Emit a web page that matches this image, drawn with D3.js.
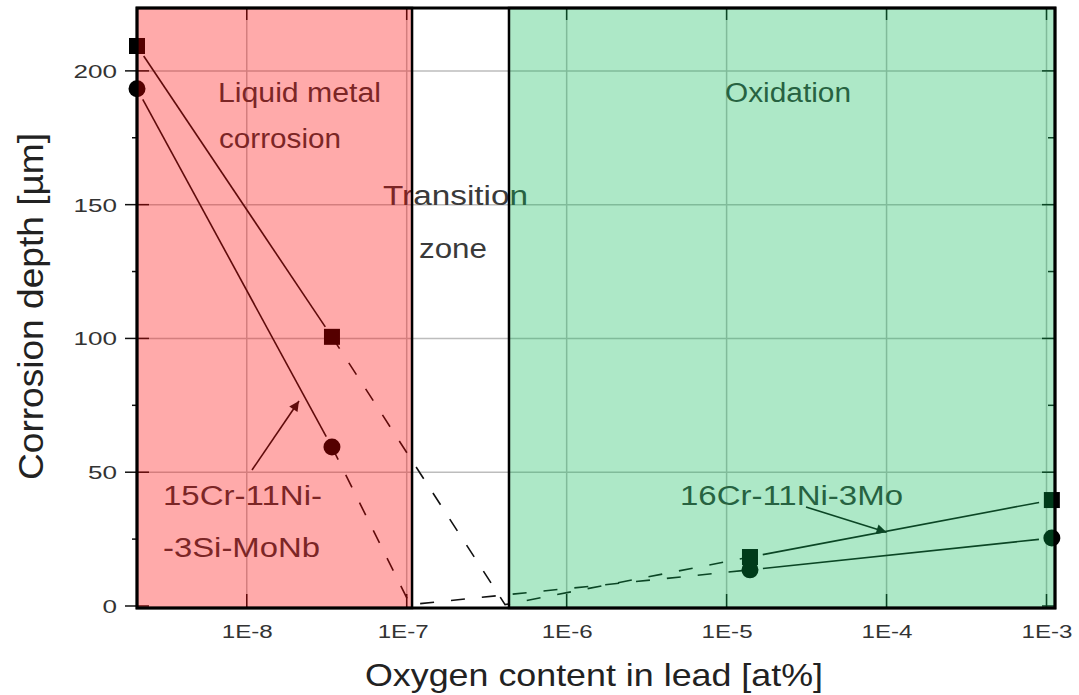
<!DOCTYPE html>
<html>
<head>
<meta charset="utf-8">
<script src="https://cdn.jsdelivr.net/npm/d3@7"></script>
<style>
  body { margin: 0; background: #fff; }
  svg { display: block; font-family: "Liberation Sans", Arial, sans-serif; }
</style>
</head>
<body>
<svg id="chart" width="1079" height="695"></svg>
<script>
// oxygen content (at%) of the measured points
const conc = [2.06e-9, 3.41e-8, 1.40e-5, 1.08e-3];
// 16Cr-11Ni-3Mo (squares) and 15Cr-11Ni-3Si-MoNb (circles), depth in µm
const depthSquare = [209.3, 100.6, 18.3, 39.6];
const depthCircle = [193.3, 59.4, 13.5, 25.4];
// dashed extrapolation through the transition zone
const dashSquare = [[3.41e-8, 100.6], [4.12e-7, 0.5], [1.40e-5, 18.3]];
const dashCircle = [[3.41e-8, 59.4], [1.05e-7, 0.5], [1.40e-5, 13.5]];

const xTicks = [1e-8, 1e-7, 1e-6, 1e-5, 1e-4, 1e-3];
const xTickLabels = ["1E-8", "1E-7", "1E-6", "1E-5", "1E-4", "1E-3"];
const yTicks = [0, 50, 100, 150, 200];
const yMinor = [25, 75, 125, 175];

// regions: liquid metal corrosion / oxidation
const regionNames = ["Liquid metal corrosion", "Oxidation"];
const regionFrom = [2.06e-9, 4.36e-7];
const regionTo = [1.08e-7, 1.13e-3];
const regionColors = ["rgba(255,0,0,0.333)", "rgba(0,182,82,0.32)"];

const svg = d3.select("#chart");
const pLeft = 137, pRight = 1055, pTop = 8, pBottom = 608;

const x = d3.scaleLog().domain([2.06e-9, 1.13e-3]).range([pLeft, pRight]);
const y = d3.scaleLinear().domain([-0.75, 223.5]).range([pBottom, pTop]);

svg.append("defs").append("marker")
    .attr("id", "arrow")
    .attr("viewBox", "0 0 10 10")
    .attr("refX", 10).attr("refY", 5)
    .attr("markerWidth", 14).attr("markerHeight", 10)
    .attr("markerUnits", "userSpaceOnUse")
    .attr("orient", "auto")
    .append("path")
    .attr("d", "M0,0 L10,5 L0,10 Z")
    .attr("fill", "#111");

// grid
const grid = svg.append("g").attr("stroke", "#bdbdbd").attr("stroke-width", 1.5);
grid.selectAll(".gx").data(xTicks).enter().append("line")
    .attr("x1", d => x(d)).attr("x2", d => x(d))
    .attr("y1", pTop).attr("y2", pBottom);
grid.selectAll(".gy").data(yTicks.slice(1)).enter().append("line")
    .attr("x1", pLeft).attr("x2", pRight)
    .attr("y1", d => y(d)).attr("y2", d => y(d));

// ticks (drawn under the coloured overlay)
const tk = svg.append("g").attr("stroke", "#111").attr("stroke-width", 1.5);
tk.selectAll(".tb").data(xTicks).enter().append("line")
    .attr("x1", d => x(d)).attr("x2", d => x(d))
    .attr("y1", pBottom).attr("y2", pBottom - 14);
tk.selectAll(".tt").data(xTicks).enter().append("line")
    .attr("x1", d => x(d)).attr("x2", d => x(d))
    .attr("y1", pTop).attr("y2", pTop + 12);
tk.selectAll(".tl").data(yTicks).enter().append("line")
    .attr("x1", pLeft - 12).attr("x2", pLeft + 12)
    .attr("y1", d => y(d)).attr("y2", d => y(d));
tk.selectAll(".tlm").data(yMinor).enter().append("line")
    .attr("x1", pLeft - 5).attr("x2", pLeft)
    .attr("y1", d => y(d)).attr("y2", d => y(d));
tk.selectAll(".tr").data(yTicks).enter().append("line")
    .attr("x1", pRight - 13).attr("x2", pRight)
    .attr("y1", d => y(d)).attr("y2", d => y(d));
tk.selectAll(".trm").data(yMinor).enter().append("line")
    .attr("x1", pRight - 7).attr("x2", pRight)
    .attr("y1", d => y(d)).attr("y2", d => y(d));

// solid connecting lines, with gaps at the markers
function gapLines(g, xs, ys, gap) {
    for (let i = 0; i < xs.length - 1; i++) {
        const x0 = x(xs[i]), y0 = y(ys[i]), x1 = x(xs[i + 1]), y1 = y(ys[i + 1]);
        const len = Math.hypot(x1 - x0, y1 - y0);
        const ux = (x1 - x0) / len, uy = (y1 - y0) / len;
        g.append("line")
            .attr("x1", x0 + ux * gap).attr("y1", y0 + uy * gap)
            .attr("x2", x1 - ux * gap).attr("y2", y1 - uy * gap);
    }
}
const lines = svg.append("g").attr("stroke", "#111").attr("stroke-width", 1.6);
// liquid metal part and oxidation part
gapLines(lines, conc.slice(0, 2), depthSquare.slice(0, 2), 12);
gapLines(lines, conc.slice(0, 2), depthCircle.slice(0, 2), 12);
gapLines(lines, conc.slice(2), depthSquare.slice(2), 13);
gapLines(lines, conc.slice(2), depthCircle.slice(2), 13);

const lineGen = d3.line().x(d => x(d[0])).y(d => y(d[1]));
[dashSquare, dashCircle].forEach(pts => {
    svg.append("path")
        .attr("d", lineGen(pts))
        .attr("fill", "none")
        .attr("stroke", "#111")
        .attr("stroke-width", 1.6)
        .attr("stroke-dasharray", "14,17");
});

// markers
svg.append("g").selectAll("rect").data(conc).enter().append("rect")
    .attr("x", d => x(d) - 8)
    .attr("y", (d, i) => y(depthSquare[i]) - 8)
    .attr("width", 16).attr("height", 16)
    .attr("fill", "#000");
svg.append("g").selectAll("circle").data(conc).enter().append("circle")
    .attr("cx", d => x(d))
    .attr("cy", (d, i) => y(depthCircle[i]))
    .attr("r", 8.5)
    .attr("fill", "#000");

// arrows
svg.append("line")
    .attr("x1", 252).attr("y1", 470).attr("x2", 299).attr("y2", 401)
    .attr("stroke", "#111").attr("stroke-width", 1.6)
    .attr("marker-end", "url(#arrow)");
const tArrow = (Math.log10(1e-4) - Math.log10(conc[2])) / (Math.log10(conc[3]) - Math.log10(conc[2]));
svg.append("line")
    .attr("x1", 806).attr("y1", 507)
    .attr("x2", x(1e-4)).attr("y2", y(d3.interpolate(depthSquare[2], depthSquare[3])(tArrow)) + 1)
    .attr("stroke", "#111").attr("stroke-width", 1.6)
    .attr("marker-end", "url(#arrow)");

// in-plot texts
function label(txt, tx, ty, len, size, fill) {
    return svg.append("text")
        .attr("x", tx).attr("y", ty)
        .attr("font-size", size)
        .attr("fill", fill || "#3a3a3a")
        .attr("textLength", len)
        .attr("lengthAdjust", "spacingAndGlyphs")
        .text(txt);
}
label("Liquid metal", 218, 102, 163, 27);
label("corrosion", 219, 148, 122, 27);
label("Transition", 383, 205, 145, 27);
label("zone", 419, 258, 68, 27);
label("Oxidation", 725, 102, 126, 27);
label("15Cr-11Ni-", 163, 505, 159, 27);
label("-3Si-MoNb", 163, 557, 157, 27);
label("16Cr-11Ni-3Mo", 680, 505, 223, 27);

// coloured region overlays
regionNames.forEach((n, i) => {
    svg.append("rect")
        .attr("x", x(regionFrom[i]))
        .attr("y", pTop)
        .attr("width", x(regionTo[i]) - x(regionFrom[i]))
        .attr("height", pBottom - pTop)
        .attr("fill", regionColors[i])
        .attr("stroke", "#000")
        .attr("stroke-width", 2.5);
});

// frame
svg.append("rect")
    .attr("x", pLeft).attr("y", pTop)
    .attr("width", pRight - pLeft).attr("height", pBottom - pTop)
    .attr("fill", "none").attr("stroke", "#000").attr("stroke-width", 3);

// tick labels
svg.append("g").selectAll("text").data(yTicks).enter().append("text")
    .attr("x", 117).attr("y", d => y(d) + 7)
    .attr("text-anchor", "end")
    .attr("font-size", 18).attr("fill", "#333")
    .attr("textLength", d => String(d).length * 14.5)
    .attr("lengthAdjust", "spacingAndGlyphs")
    .text(d => d);
svg.append("g").selectAll("text").data(xTicks).enter().append("text")
    .attr("x", (d, i) => x(d) - 25 - (i === 1 ? 4 : 0)).attr("y", 638)
    .attr("font-size", 18).attr("fill", "#333")
    .attr("textLength", 51)
    .attr("lengthAdjust", "spacingAndGlyphs")
    .text((d, i) => xTickLabels[i]);

// axis titles
svg.append("text")
    .attr("x", 365).attr("y", 686)
    .attr("font-size", 32).attr("fill", "#222")
    .attr("textLength", 458).attr("lengthAdjust", "spacingAndGlyphs")
    .text("Oxygen content in lead [at%]");
svg.append("text")
    .attr("transform", "translate(43,480) rotate(-90)")
    .attr("font-size", 35).attr("fill", "#222")
    .attr("textLength", 347).attr("lengthAdjust", "spacingAndGlyphs")
    .text("Corrosion depth [µm]");
</script>
</body>
</html>
